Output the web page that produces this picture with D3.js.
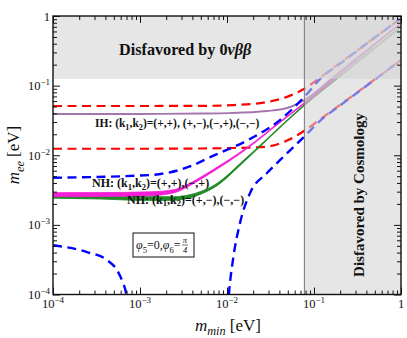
<!DOCTYPE html>
<html>
<head>
<meta charset="utf-8">
<script src="https://cdn.jsdelivr.net/npm/d3@7"></script>
<style>
  body { margin: 0; background: #fff; }
  svg { display: block; }
  text { font-family: "Liberation Serif", "Times New Roman", serif; fill: #111; }
</style>
</head>
<body>
<div id="chart"></div>
<script>
// ---- data: [m_min, m_ee] in eV ----
const ihUpper = [[1e-4, 0.051], [1e-3, 0.051], [5e-3, 0.0512], [0.0117, 0.0525], [0.0288, 0.058],
  [0.049, 0.069], [0.0775, 0.090], [0.12, 0.133], [0.2, 0.213], [0.5, 0.492], [1, 0.93]]
const ihLower = [[1e-4, 0.0124], [1e-3, 0.0124], [5e-3, 0.0125], [0.0117, 0.0127], [0.0288, 0.0133],
  [0.049, 0.0163], [0.0775, 0.0225], [0.12, 0.0334], [0.2, 0.053], [0.5, 0.123], [1, 0.233]]
const ihSolid = [[1e-4, 0.0391], [1e-3, 0.0392], [4.9e-3, 0.0397], [0.0105, 0.0403], [0.0288, 0.0432],
  [0.049, 0.0477], [0.0775, 0.062], [0.2, 0.16], [0.5, 0.397], [1, 0.79]]
const nhUpper = [[1e-4, 0.00475], [1.3e-3, 0.0052], [3.75e-3, 0.0069], [6.9e-3, 0.0098], [0.0169, 0.0162],
  [0.0406, 0.032], [0.0775, 0.069], [0.12, 0.128], [0.2, 0.207], [0.5, 0.49], [1, 0.93]]
const nhLowerA = [[1e-4, 5.1e-4], [2.46e-4, 4.07e-4], [4.18e-4, 3.12e-4], [5.45e-4, 2.24e-4],
  [6.38e-4, 1.46e-4], [6.9e-4, 1.05e-4], [7.2e-4, 6e-5]]
const nhLowerB = [[0.0102, 6e-5], [0.01055, 1.05e-4], [0.0117, 3.12e-4], [0.0141, 1.06e-3], [0.0184, 2.86e-3],
  [0.0288, 5.55e-3], [0.0406, 8.5e-3], [0.0775, 0.0186], [0.12, 0.032], [0.2, 0.052], [0.5, 0.122], [1, 0.233]]
// bands: [m_min, low, high]
const nhPlusBand = [[1e-4, 0.00254, 0.0029], [3.5e-4, 0.00255, 0.00291], [1.3e-3, 0.00262, 0.00298],
  [2.5e-3, 0.0029, 0.00322], [3.8e-3, 0.0037, 0.0040], [4.9e-3, 0.00445, 0.0048], [6.9e-3, 0.0058, 0.0062],
  [0.017, 0.0124, 0.0130], [0.0407, 0.0294, 0.0306], [0.0775, 0.055, 0.057], [0.2, 0.146, 0.152],
  [0.5, 0.38, 0.39], [1, 0.78, 0.80]]
const nhMinusBand = [[1e-4, 0.00242, 0.00265], [3.5e-4, 0.00235, 0.00259], [1.3e-3, 0.00223, 0.00256],
  [2.5e-3, 0.00225, 0.00254], [3.8e-3, 0.00246, 0.00272], [4.9e-3, 0.00273, 0.003], [6.9e-3, 0.00335, 0.00363],
  [0.017, 0.00885, 0.0094], [0.0407, 0.0249, 0.0259], [0.0775, 0.0516, 0.0536], [0.2, 0.135, 0.139],
  [0.5, 0.343, 0.351], [1, 0.69, 0.71]]

// excluded regions
const cosmoLimit = 0.0775
const bbLimit = 0.125
const decades = [-4, -3, -2, -1, 0]

const width = 407, height = 338
const margin = { top: 16, right: 6, bottom: 43.5, left: 53 }

const svg = d3.select('#chart').append('svg')
  .attr('width', width)
  .attr('height', height)

const x = d3.scaleLog().domain([1e-4, 1]).range([margin.left, width - margin.right])
const y = d3.scaleLog().domain([1e-4, 1]).range([height - margin.bottom, margin.top])

svg.append('clipPath').attr('id', 'plot')
  .append('rect')
  .attr('x', x.range()[0]).attr('y', y.range()[1])
  .attr('width', x.range()[1] - x.range()[0])
  .attr('height', y.range()[0] - y.range()[1])

const gPlot = svg.append('g').attr('clip-path', 'url(#plot)')

const line = d3.line().x(d => x(d[0])).y(d => y(d[1])).curve(d3.curveMonotoneX)
const band = d3.area().x(d => x(d[0])).y0(d => y(d[1])).y1(d => y(d[2])).curve(d3.curveMonotoneX)

// IH curves
;[ihUpper, ihLower].forEach(data => {
  gPlot.append('path').attr('d', line(data))
    .attr('fill', 'none').attr('stroke', '#ff0000')
    .attr('stroke-width', 2.2).attr('stroke-dasharray', '9,5.5')
})
gPlot.append('path').attr('d', line(ihSolid))
  .attr('fill', 'none').attr('stroke', '#a476ad').attr('stroke-width', 1.9)

// NH bands
gPlot.append('path').attr('d', band(nhMinusBand)).attr('fill', '#1f8a26').attr('stroke', '#1f8a26').attr('stroke-width', 0.8)
gPlot.append('path').attr('d', band(nhPlusBand)).attr('fill', '#f51ed6').attr('stroke', '#f51ed6').attr('stroke-width', 0.8)

// NH dashed bounds
;[nhUpper, nhLowerA, nhLowerB].forEach(data => {
  gPlot.append('path').attr('d', line(data))
    .attr('fill', 'none').attr('stroke', '#0000ff')
    .attr('stroke-width', 2.4).attr('stroke-dasharray', '9,5.5')
})

// shaded regions drawn over the curves
gPlot.append('rect')
  .attr('x', x(1e-4)).attr('y', y(1))
  .attr('width', x(1) - x(1e-4)).attr('height', y(bbLimit) - y(1))
  .attr('fill', '#d3d3d3').attr('fill-opacity', 0.57)
gPlot.append('rect')
  .attr('x', x(cosmoLimit)).attr('y', y(1))
  .attr('width', x(1) - x(cosmoLimit)).attr('height', y(1e-4) - y(1))
  .attr('fill', '#d3d3d3').attr('fill-opacity', 0.57)
gPlot.append('line')
  .attr('x1', x(cosmoLimit)).attr('x2', x(cosmoLimit))
  .attr('y1', y(1)).attr('y2', y(1e-4))
  .attr('stroke', '#777').attr('stroke-width', 1)

// ---- axes: inward ticks on all four sides ----
const majors = decades.map(e => Math.pow(10, e))
const minors = []
decades.slice(0, -1).forEach(e => {
  for (let k = 2; k <= 9; k++) minors.push(k * Math.pow(10, e))
})

const axisSpecs = [
  [d3.axisBottom, x, `translate(0,${y.range()[0]})`],
  [d3.axisTop, x, `translate(0,${y.range()[1]})`],
  [d3.axisLeft, y, `translate(${x.range()[0]},0)`],
  [d3.axisRight, y, `translate(${x.range()[1]},0)`]
]
axisSpecs.forEach(([axisFn, scale, tr]) => {
  ;[[majors, -7], [minors, -4]].forEach(([vals, size]) => {
    const g = svg.append('g').attr('transform', tr)
      .call(axisFn(scale).tickValues(vals).tickSize(size).tickFormat(''))
    g.select('.domain').remove()
    g.selectAll('line').attr('stroke', '#111').attr('stroke-width', 1)
  })
})

svg.append('rect')
  .attr('x', x.range()[0]).attr('y', y.range()[1])
  .attr('width', x.range()[1] - x.range()[0])
  .attr('height', y.range()[0] - y.range()[1])
  .attr('fill', 'none').attr('stroke', '#111').attr('stroke-width', 1.4)

// rich text helper: parts = [[text, flags]]
function rich(sel, parts, size, subShift = 0.3) {
  let shift = 0
  parts.forEach(([t, k = '']) => {
    const target = k.includes('sub') ? size * subShift : k.includes('sup') ? -size * 0.42 : 0
    sel.append('tspan')
      .attr('dy', target - shift)
      .attr('font-size', target ? size * 0.72 : size)
      .attr('font-style', k.includes('it') ? 'italic' : null)
      .text(t)
    shift = target
  })
  return sel
}

const tickLabel = e => e === 0 ? [['1']] : [['10'], ['\u2212' + (-e), 'sup']]

decades.forEach(e => {
  const v = Math.pow(10, e)
  rich(svg.append('text').attr('x', x(v)).attr('y', 308).attr('text-anchor', 'middle'), tickLabel(e), 12.5)
  rich(svg.append('text').attr('x', 50).attr('y', y(v) + 4.5).attr('text-anchor', 'end'), tickLabel(e), 12.5)
})

// axis titles
rich(svg.append('text').attr('x', 228).attr('y', 331).attr('text-anchor', 'middle'),
  [['m', 'it'], ['min', 'sub it'], [' [eV]']], 17, 0.22)
rich(svg.append('text').attr('transform', 'translate(19,155) rotate(-90)').attr('text-anchor', 'middle'),
  [['m', 'it'], ['ee', 'sub it'], [' [eV]']], 17)

// region labels
rich(svg.append('text').attr('x', 119).attr('y', 55).attr('font-weight', 'bold'),
  [['Disfavored by 0'], ['\u03bd\u03b2\u03b2', 'it']], 16.2)
svg.append('text').attr('transform', 'translate(364,195) rotate(-90)')
  .attr('text-anchor', 'middle').attr('font-weight', 'bold').attr('font-size', 15)
  .text('Disfavored by Cosmology')

// curve labels
rich(svg.append('text').attr('x', 95).attr('y', 127).attr('font-weight', 'bold'),
  [['IH: (k'], ['1', 'sub'], [',k'], ['2', 'sub'], [')=(+,+), (+,\u2212),(\u2212,+),(\u2212,\u2212)']], 11.5)
rich(svg.append('text').attr('x', 92).attr('y', 187).attr('font-weight', 'bold'),
  [['NH: (k'], ['1', 'sub'], [',k'], ['2', 'sub'], [')=(+,+),(\u2212,+)']], 12, 0.22)
rich(svg.append('text').attr('x', 127).attr('y', 203.5).attr('font-weight', 'bold'),
  [['NH: (k'], ['1', 'sub'], [',k'], ['2', 'sub'], [')=(+,\u2212),(\u2212,\u2212)']], 12, 0.22)

// phase box
svg.append('rect').attr('x', 133).attr('y', 233).attr('width', 61).attr('height', 24)
  .attr('fill', '#fff').attr('stroke', '#111').attr('stroke-width', 1)
rich(svg.append('text').attr('x', 136).attr('y', 249),
  [['\u03c6', 'it'], ['5', 'sub'], ['=0,'], ['\u03c6', 'it'], ['6', 'sub'], ['=']], 12)
svg.append('text').attr('x', 185).attr('y', 243).attr('text-anchor', 'middle')
  .attr('font-size', 8.5).attr('font-style', 'italic').text('\u03c0')
svg.append('line').attr('x1', 182).attr('x2', 188).attr('y1', 245).attr('y2', 245)
  .attr('stroke', '#111').attr('stroke-width', 0.6)
svg.append('text').attr('x', 185).attr('y', 252.5).attr('text-anchor', 'middle')
  .attr('font-size', 8.5).attr('font-style', 'italic').text('4')
</script>
</body>
</html>
